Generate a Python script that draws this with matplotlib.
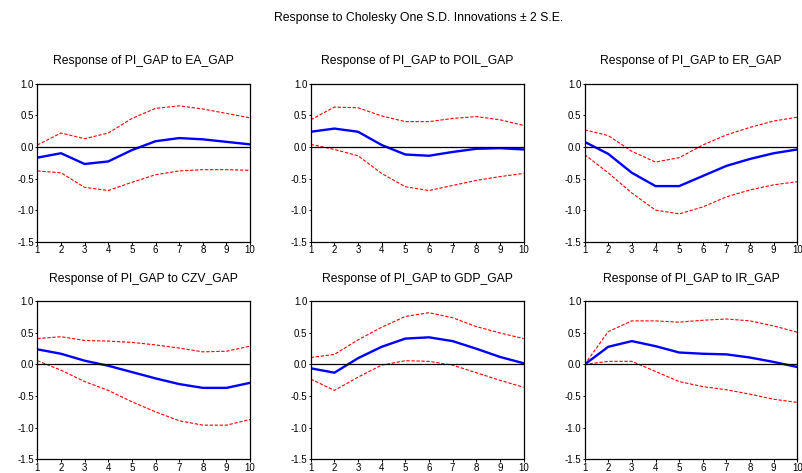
import numpy as np
import matplotlib
matplotlib.use('Agg')
import matplotlib.pyplot as plt

plt.rcParams['font.family'] = ['Liberation Sans', 'DejaVu Sans']

periods = [1, 2, 3, 4, 5, 6, 7, 8, 9, 10]
shocks = ['EA_GAP', 'POIL_GAP', 'ER_GAP', 'CZV_GAP', 'GDP_GAP', 'IR_GAP']

# impulse responses and +/- 2 S.E. bands
resp_ea = [-0.17, -0.10, -0.27, -0.23, -0.05, 0.09, 0.14, 0.12, 0.08, 0.04]
up_ea = [0.03, 0.22, 0.13, 0.22, 0.45, 0.61, 0.65, 0.60, 0.53, 0.46]
lo_ea = [-0.38, -0.41, -0.64, -0.69, -0.56, -0.44, -0.38, -0.36, -0.36, -0.37]

resp_poil = [0.24, 0.29, 0.24, 0.03, -0.12, -0.14, -0.08, -0.03, -0.02, -0.04]
up_poil = [0.43, 0.63, 0.62, 0.49, 0.40, 0.40, 0.45, 0.48, 0.43, 0.34]
lo_poil = [0.04, -0.04, -0.14, -0.42, -0.63, -0.69, -0.61, -0.53, -0.47, -0.42]

resp_er = [0.08, -0.11, -0.41, -0.62, -0.62, -0.46, -0.30, -0.19, -0.10, -0.04]
up_er = [0.27, 0.18, -0.07, -0.24, -0.17, 0.03, 0.19, 0.31, 0.41, 0.47]
lo_er = [-0.12, -0.41, -0.73, -1.00, -1.06, -0.95, -0.79, -0.68, -0.60, -0.55]

resp_czv = [0.24, 0.17, 0.06, -0.02, -0.12, -0.22, -0.31, -0.37, -0.37, -0.29]
up_czv = [0.41, 0.44, 0.38, 0.37, 0.35, 0.31, 0.26, 0.20, 0.21, 0.29]
lo_czv = [0.06, -0.09, -0.27, -0.41, -0.59, -0.75, -0.89, -0.96, -0.96, -0.87]

resp_gdp = [-0.06, -0.13, 0.10, 0.28, 0.41, 0.43, 0.37, 0.25, 0.12, 0.02]
up_gdp = [0.11, 0.16, 0.39, 0.59, 0.76, 0.82, 0.74, 0.60, 0.50, 0.41]
lo_gdp = [-0.23, -0.41, -0.20, -0.01, 0.06, 0.05, -0.01, -0.13, -0.25, -0.36]

resp_ir = [0.00, 0.28, 0.37, 0.29, 0.19, 0.17, 0.16, 0.11, 0.04, -0.04]
up_ir = [0.00, 0.52, 0.69, 0.69, 0.67, 0.70, 0.72, 0.69, 0.61, 0.51]
lo_ir = [0.00, 0.05, 0.05, -0.11, -0.27, -0.35, -0.40, -0.47, -0.55, -0.60]

resps = [resp_ea, resp_poil, resp_er, resp_czv, resp_gdp, resp_ir]
uppers = [up_ea, up_poil, up_er, up_czv, up_gdp, up_ir]
lowers = [lo_ea, lo_poil, lo_er, lo_czv, lo_gdp, lo_ir]

fig = plt.figure(figsize=(8.03, 4.73), dpi=100)
fig.text(0.521, 0.962, 'Response to Cholesky One S.D. Innovations \u00b1 2 S.E.',
         ha='center', va='center', fontsize=8.8)

lefts = [0.0465, 0.387, 0.728]
bottoms = [0.489, 0.029]
w = 0.265
h = 0.334

for i in range(6):
    row, col = divmod(i, 3)
    ax = fig.add_axes([lefts[col], bottoms[row], w, h])
    ax.plot(periods, uppers[i], color='red', linestyle='--', linewidth=0.8, dashes=(3, 1.5))
    ax.plot(periods, lowers[i], color='red', linestyle='--', linewidth=0.8, dashes=(3, 1.5))
    ax.plot(periods, resps[i], color='blue', linewidth=1.7)
    ax.axhline(0, color='black', linewidth=0.9)
    ax.set_xlim(1, 10)
    ax.set_ylim(-1.5, 1.0)
    ax.set_xticks(periods)
    ax.set_yticks([-1.5, -1.0, -0.5, 0.0, 0.5, 1.0])
    ax.set_yticklabels(['-1.5', '-1.0', '-0.5', '0.0', '0.5', '1.0'])
    ax.tick_params(labelsize=7, length=1.8, width=0.7, pad=0.6)
    for s in ax.spines.values():
        s.set_linewidth(0.9)
    ax.set_title('Response of PI_GAP to ' + shocks[i], fontsize=8.7, pad=14)

fig.savefig('out.png', dpi=100)
